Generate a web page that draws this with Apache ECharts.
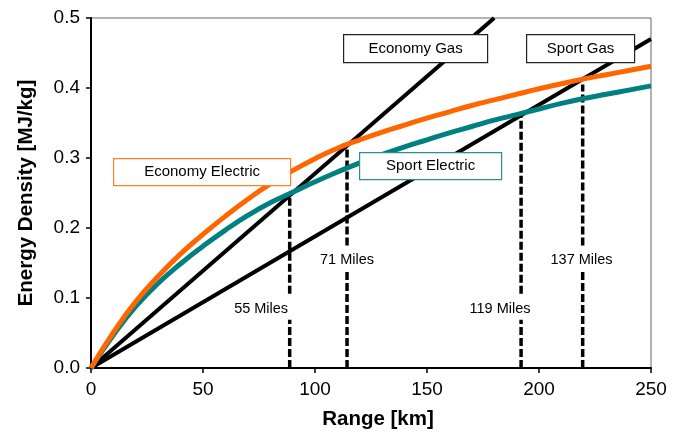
<!DOCTYPE html>
<html>
<head>
<meta charset="utf-8">
<script src="https://cdn.jsdelivr.net/npm/echarts@6/dist/echarts.min.js"></script>
<style>html,body{margin:0;padding:0;background:#fff}#c{width:685px;height:435px}</style>
</head>
<body>
<div id="c"></div>
<script>
var rangeKm = [0,10,20,30,40,50,60,70,80,90,100,110,120,130,140,150,160,170,180,190,200,210,220,230,240,250];
var economyElectric = [0,0.051,0.095,0.131,0.163,0.191,0.217,0.241,0.263,0.282,0.299,0.314,0.326,0.337,0.347,0.357,0.366,0.375,0.383,0.391,0.399,0.406,0.413,0.419,0.425,0.431];
var sportElectric = [0,0.047,0.088,0.121,0.149,0.174,0.197,0.218,0.236,0.251,0.266,0.28,0.293,0.305,0.316,0.326,0.336,0.345,0.354,0.362,0.37,0.378,0.385,0.391,0.397,0.403];
var economyGas = [[0,0],[180,0.5]];
var sportGas = [[0,0],[250,0.47]];
var breakEvenKm = [88.7,114.3,192,219.5];
var breakEvenTop = [0.243,0.314,0.359,0.405];
var gapLow = [0.069,0.137,0.069,0.137];
var gapHigh = [0.106,0.175,0.106,0.175];
var breakEvenLabel = ['55 Miles','71 Miles','119 Miles','137 Miles'];
var labelKm = [88.0,114.3,182.6,219.0];
var labelVal = [0.085,0.154,0.085,0.154];
var labelAlign = ['right','center','center','center'];

function zip(xs, ys){ return xs.map(function(x,i){return [x, ys[i]];}); }

var FONT = 'Liberation Sans, Arial, sans-serif';
var series = [];
series.push({type:'line', data:economyGas, showSymbol:false, lineStyle:{color:'#000', width:4}, z:3, silent:true});
series.push({type:'line', data:sportGas, showSymbol:false, lineStyle:{color:'#000', width:4}, z:3, silent:true});
series.push({type:'line', data:zip(rangeKm, sportElectric), smooth:true, showSymbol:false, lineStyle:{color:'#008080', width:5}, z:4, silent:true});
series.push({type:'line', data:zip(rangeKm, economyElectric), smooth:true, showSymbol:false, lineStyle:{color:'#ff6600', width:5}, z:5, silent:true});
breakEvenKm.forEach(function(x,i){
  series.push({type:'line', data:[[x,0],[x,gapLow[i]]], showSymbol:false,
    lineStyle:{color:'#000', width:3.5, type:[8,3]}, z:2, silent:true});
  series.push({type:'line', data:[[x,gapHigh[i]],[x,breakEvenTop[i]]], showSymbol:false,
    lineStyle:{color:'#000', width:3.5, type:[8,3]}, z:2, silent:true});
});
series.push({type:'scatter', symbolSize:0, z:6, silent:true, itemStyle:{opacity:1},
  data: labelKm.map(function(x,i){
    return {value:[x,labelVal[i]], label:{show:true, position:'inside', formatter:breakEvenLabel[i], align:labelAlign[i],
      color:'#000', opacity:1, fontSize:14.5, fontFamily:FONT}};
  })
});

function box(left, top, w, h, text, border){
  return {type:'group', left:left, top:top, z:100, children:[
    {type:'rect', z:100, shape:{x:0,y:0,width:w,height:h}, style:{fill:'#fff', stroke:border, lineWidth:1.2}},
    {type:'text', z:101, x:w/2, y:h/2, style:{text:text, fill:'#000', font:'15px "Liberation Sans", Arial, sans-serif', textAlign:'center', textVerticalAlign:'middle'}}
  ]};
}

var chart = echarts.init(document.getElementById('c'));
chart.setOption({
  animation:false,
  backgroundColor:'#fff',
  grid:{left:91, right:34, top:18, bottom:63, show:true, borderColor:'#666', borderWidth:1},
  xAxis:{type:'value', min:0, max:250, interval:50,
    name:'Range [km]', nameLocation:'middle', nameGap:41,
    nameTextStyle:{fontSize:20.5, fontWeight:'bold', color:'#000', fontFamily:FONT, padding:[0,0,0,14]},
    axisLine:{show:true, onZero:false, lineStyle:{color:'#000', width:2}},
    axisTick:{show:true, inside:false, length:5, lineStyle:{color:'#000', width:1.5}},
    axisLabel:{fontSize:19, color:'#000', margin:12, fontFamily:FONT},
    splitLine:{show:false}},
  yAxis:{type:'value', min:0, max:0.5, interval:0.1,
    name:'Energy Density [MJ/kg]', nameLocation:'middle', nameGap:54,
    nameTextStyle:{fontSize:20.5, fontWeight:'bold', color:'#000', fontFamily:FONT},
    axisLine:{show:true, onZero:false, lineStyle:{color:'#000', width:2}},
    axisTick:{show:true, inside:false, length:5, lineStyle:{color:'#000', width:1.5}},
    axisLabel:{fontSize:19, color:'#000', margin:11, fontFamily:FONT,
      formatter:function(v){return v.toFixed(1);}},
    splitLine:{show:false}},
  series:series,
  graphic:[
    box(113,158,177,27,'Economy Electric','#ff7f2a'),
    box(359,152,142,27,'Sport Electric','#2a9090'),
    box(343,34,144,28,'Economy Gas','#222'),
    box(526,34,108,28,'Sport Gas','#222')
  ]
});
</script>
</body>
</html>
